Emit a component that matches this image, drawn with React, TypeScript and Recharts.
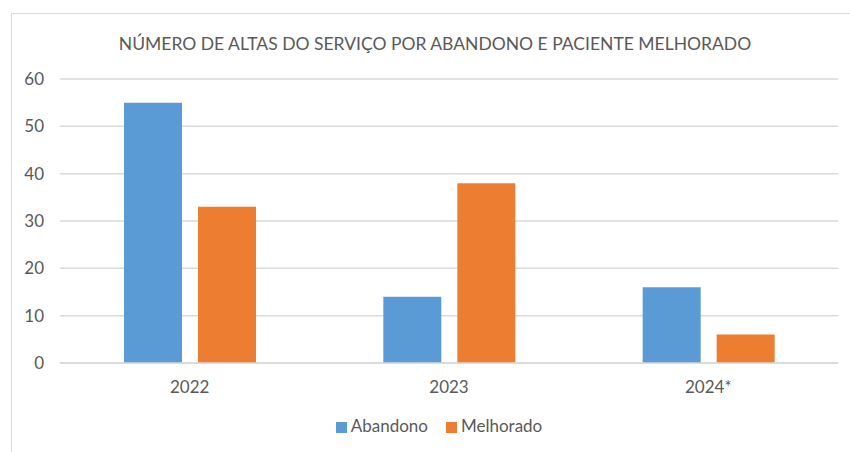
import { BarChart, Bar, XAxis, YAxis, CartesianGrid, Legend } from 'recharts';

const years = ['2022', '2023', '2024*'];
const abandono = [55, 14, 16];
const melhorado = [33, 38, 6];
const yTicks = [0, 10, 20, 30, 40, 50, 60];

const data = years.map((year, i) => ({ year, abandono: abandono[i], melhorado: melhorado[i] }));

const FONT = 'Lato, "Open Sans", sans-serif';
const TEXT = '#595959';

export default function App() {
  return (
    <div style={{ position: 'absolute', left: 0, top: 0, width: 850, height: 452, background: '#fff', overflow: 'hidden', fontFamily: FONT }}>
      <div style={{ position: 'absolute', left: 11, top: 13, width: 900, height: 500, border: '1.5px solid #d9d9d9' }} />
      <div style={{ position: 'absolute', left: 0, width: 870, top: 33, textAlign: 'center', fontSize: 17.5, color: TEXT, lineHeight: '22px' }}>
        NÚMERO DE ALTAS DO SERVIÇO POR ABANDONO E PACIENTE MELHORADO
      </div>
      <div style={{ position: 'absolute', left: 0, top: 0 }}>
        <BarChart width={850} height={452} data={data} barSize={58} barGap={16}
          margin={{ top: 79, right: 12, left: 20, bottom: 38 }}>
          <CartesianGrid vertical={false} stroke="#d9d9d9" strokeWidth={1.5} />
          <XAxis dataKey="year" height={30} tickLine={false} tickSize={0} tickMargin={18}
            axisLine={{ stroke: '#d9d9d9', strokeWidth: 1.5 }}
            tick={{ fill: TEXT, fontSize: 17, fontFamily: FONT }} />
          <YAxis width={40} domain={[0, 60]} ticks={yTicks} axisLine={false} tickLine={false}
            tickSize={0} tickMargin={16} tick={{ fill: TEXT, fontSize: 17, fontFamily: FONT }} />
          <Legend verticalAlign="bottom" iconType="square" iconSize={11}
            wrapperStyle={{ fontSize: 17, fontFamily: FONT, color: TEXT, bottom: 16, paddingLeft: 19 }}
            formatter={(v) => <span style={{ color: TEXT, paddingRight: 8 }}>{v}</span>} />
          <Bar dataKey="abandono" name="Abandono" fill="#5b9bd5" isAnimationActive={false} />
          <Bar dataKey="melhorado" name="Melhorado" fill="#ed7d31" isAnimationActive={false} />
        </BarChart>
      </div>
    </div>
  );
}
